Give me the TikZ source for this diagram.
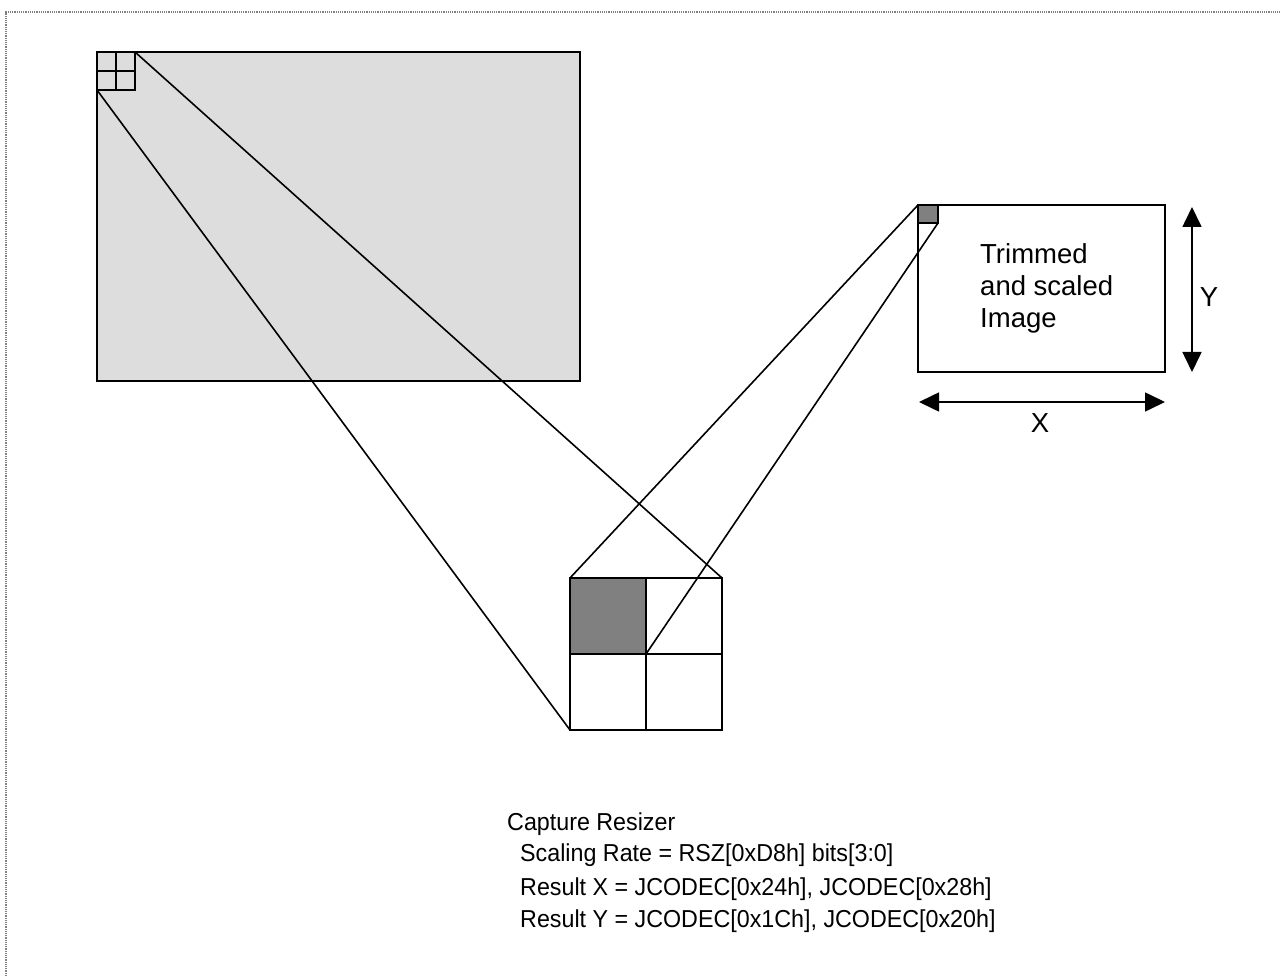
\documentclass[tikz,border=0pt]{standalone}
\usepackage{fontspec}
\setmainfont{Liberation Sans}
\newfontfamily\capfont{Liberation Sans}[FakeStretch=0.95]
\usetikzlibrary{arrows.meta}
\definecolor{lightfill}{RGB}{221,221,221}
\definecolor{darkfill}{RGB}{128,128,128}
\tikzset{
  ln/.style={line width=1.6pt, black},
  boxtxt/.style={anchor=base west, inner sep=0pt, font=\fontsize{27.5}{32}\selectfont},
  captxt/.style={anchor=base west, inner sep=0pt, font=\capfont\fontsize{24.5}{32}\selectfont},
  dimarrow/.style={ln, {Triangle[length=20pt,width=19pt]}-{Triangle[length=20pt,width=19pt]}},
  frame/.style={draw=gray, densely dotted, line width=1.2pt}
}
\begin{document}
\begin{tikzpicture}[x=1pt,y=-1pt]
\useasboundingbox (0,0) rectangle (1280,976);
% page frame
\draw[frame] (6,976) -- (6,12) -- (1280,12);
% big source image
\draw[ln, fill=lightfill] (97,52) rectangle (580,381);
% small 2x2 grid in corner
\draw[ln] (97,52) rectangle (135,90);
\draw[ln] (116,52) -- (116,90);
\draw[ln] (97,71) -- (135,71);
\coordinate (sgTR) at (135,52);
\coordinate (sgBL) at (97,90);
% bottom enlarged grid
\fill[darkfill] (570,578) rectangle (646,654);
\draw[ln] (570,578) rectangle (722,730);
\draw[ln] (646,578) -- (646,730);
\draw[ln] (570,654) -- (722,654);
\draw[ln] (570,578) rectangle (646,654);
\coordinate (bgTL) at (570,578);
\coordinate (bgTR) at (722,578);
\coordinate (bgBL) at (570,730);
\coordinate (bgMid) at (646,654);
% right output image
\draw[ln] (918,205) rectangle (1165,372);
\draw[ln, fill=darkfill] (918,205) rectangle (938,223);
\coordinate (rbTL) at (918,205);
\coordinate (rsBR) at (938,223);
% projection lines
\draw[ln] (sgTR) -- (bgTR);
\draw[ln] (sgBL) -- (bgBL);
\draw[ln] (bgTL) -- (rbTL);
\draw[ln] (bgMid) -- (rsBR);
% box text
\node[boxtxt] (t1) at (980,264) {Trimmed};
\node[boxtxt] (t2) at (980,296) {and scaled};
\node[boxtxt] (t3) at (980,327) {Image};
% dimension arrows
\coordinate (yTop) at (1192,207);
\coordinate (yBot) at (1192,372);
\coordinate (xL) at (919,402);
\coordinate (xR) at (1165,402);
\draw[dimarrow] (yTop) -- (yBot);
\draw[dimarrow] (xL) -- (xR);
\node[font=\fontsize{27.5}{32}\selectfont, inner sep=0pt] (ylab) at (1209,297) {Y};
\node[font=\fontsize{27.5}{32}\selectfont, inner sep=0pt] (xlab) at (1040,423) {X};
% caption
\node[captxt] (c1) at (507,830) {Capture Resizer};
\node[captxt] (c2) at (520,861) {Scaling Rate = RSZ[0xD8h] bits[3:0]};
\node[captxt] (c3) at (520,895) {Result X = JCODEC[0x24h], JCODEC[0x28h]};
\node[captxt] (c4) at (520,927) {Result Y = JCODEC[0x1Ch], JCODEC[0x20h]};
\end{tikzpicture}
\end{document}
